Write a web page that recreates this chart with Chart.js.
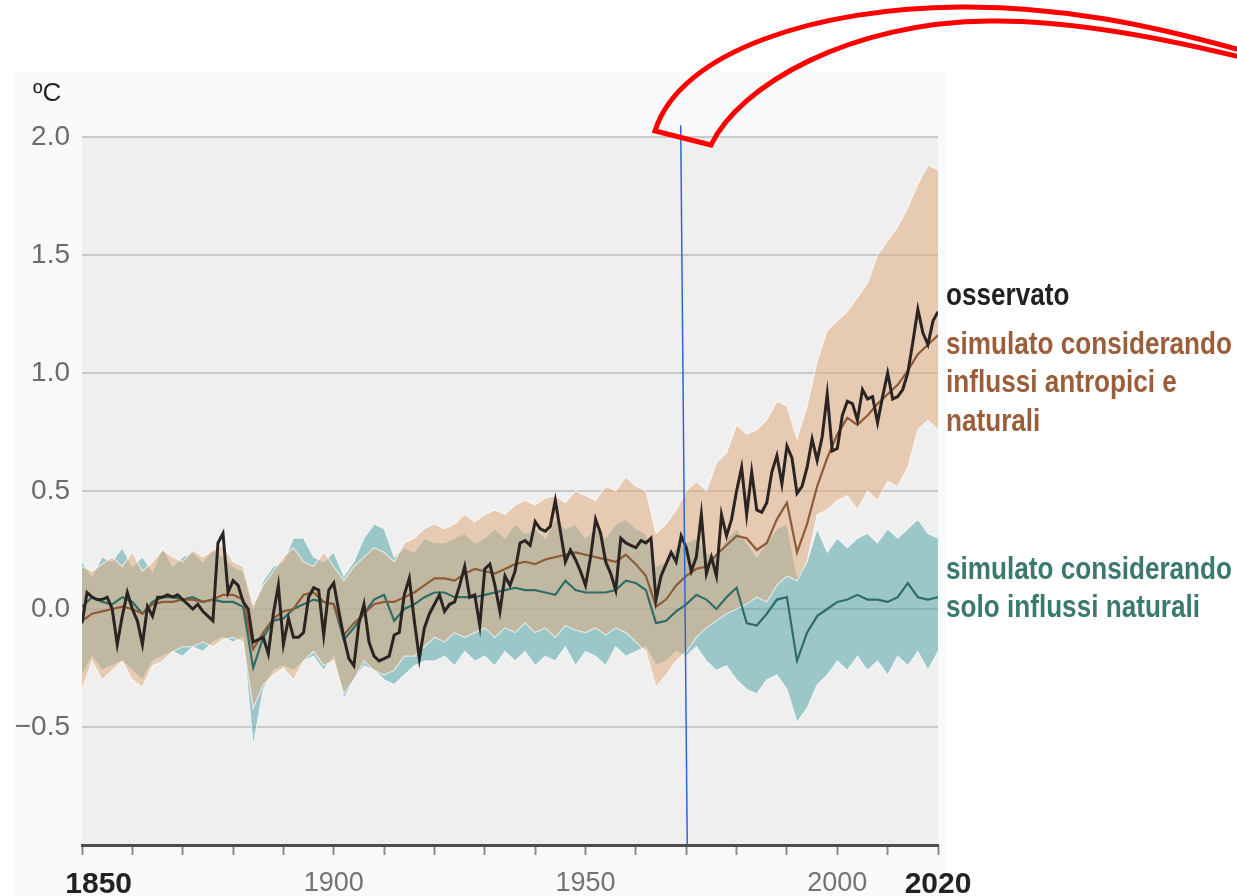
<!DOCTYPE html>
<html>
<head>
<meta charset="utf-8">
<script src="https://cdn.jsdelivr.net/npm/chart.js@4.4.1/dist/chart.umd.min.js"></script>
<style>
  html, body { margin: 0; padding: 0; background: #fff; }
  #wrap { position: relative; width: 1237px; height: 896px; }
</style>
</head>
<body>
<div id="wrap"><canvas id="grafico" width="1237" height="896"></canvas></div>
<script>
// anni (asse x)
function range(a, b, passo) { const r = []; for (let v = a; v <= b; v += passo) r.push(v); return r; }
const obsYears = range(1850, 2020, 1);
const bandYears = range(1850, 2020, 2);
const xTicksLabelled = [1850, 1900, 1950, 2000, 2020];
const xTicksBold = [1850, 2020];

// osservato (annuale, 1850-2020)
const obsValues = [
  -0.06, 0.07, 0.05, 0.04, 0.04, 0.05, 0.00, -0.15, -0.03, 0.07,
  0.00, -0.05, -0.15, 0.01, -0.03, 0.05, 0.05, 0.06, 0.05, 0.06,
  0.04, 0.02, 0.00, 0.02, -0.01, -0.03, -0.05, 0.28, 0.32, 0.07,
  0.12, 0.10, 0.03, 0.00, -0.14, -0.13, -0.12, -0.19, -0.02, 0.10,
  -0.15, -0.04, -0.12, -0.12, -0.10, 0.05, 0.09, 0.08, -0.11, 0.08,
  0.11, -0.01, -0.12, -0.21, -0.24, -0.06, 0.02, -0.14, -0.20, -0.22,
  -0.21, -0.20, -0.11, -0.10, 0.06, 0.13, -0.05, -0.21, -0.08, -0.02,
  0.02, 0.06, -0.01, 0.02, 0.03, 0.10, 0.18, 0.05, 0.06, -0.07,
  0.17, 0.19, 0.10, -0.01, 0.14, 0.10, 0.16, 0.28, 0.29, 0.27,
  0.37, 0.34, 0.33, 0.35, 0.46, 0.33, 0.20, 0.25, 0.21, 0.16,
  0.10, 0.22, 0.38, 0.32, 0.20, 0.15, 0.08, 0.30, 0.28, 0.27,
  0.26, 0.29, 0.28, 0.30, 0.04, 0.14, 0.19, 0.24, 0.20, 0.31,
  0.26, 0.16, 0.22, 0.40, 0.15, 0.22, 0.14, 0.40, 0.31, 0.38,
  0.50, 0.60, 0.40, 0.58, 0.42, 0.41, 0.45, 0.58, 0.65, 0.53,
  0.69, 0.64, 0.49, 0.52, 0.60, 0.72, 0.63, 0.73, 0.91, 0.67,
  0.68, 0.82, 0.88, 0.87, 0.80, 0.93, 0.89, 0.90, 0.79, 0.90,
  1.00, 0.89, 0.90, 0.93, 1.00, 1.13, 1.27, 1.17, 1.12, 1.22,
  1.26
];

// simulato, influssi antropici e naturali (ogni 2 anni)
const humanMean = [
  -0.05, -0.02, -0.01, 0.00, 0.01, 0.00, -0.02, 0.02, 0.03, 0.03,
  0.04, 0.04, 0.03, 0.04, 0.06, 0.06, 0.04, -0.17, -0.10, -0.04,
  -0.01, 0.00, 0.06, 0.07, 0.03, 0.02, -0.11, -0.06, -0.02, 0.02,
  0.03, 0.03, 0.05, 0.07, 0.10, 0.13, 0.13, 0.12, 0.15, 0.17,
  0.16, 0.15, 0.17, 0.19, 0.20, 0.19, 0.21, 0.22, 0.23, 0.24,
  0.23, 0.22, 0.21, 0.20, 0.23, 0.19, 0.14, 0.01, 0.04, 0.10,
  0.14, 0.17, 0.18, 0.23, 0.27, 0.31, 0.30, 0.25, 0.28, 0.38,
  0.45, 0.24, 0.36, 0.52, 0.64, 0.74, 0.81, 0.78, 0.82, 0.87,
  0.91, 0.95, 1.01, 1.08, 1.12, 1.16
];
const humanHi = [
  0.18, 0.16, 0.19, 0.22, 0.18, 0.24, 0.16, 0.20, 0.25, 0.22,
  0.20, 0.25, 0.22, 0.25, 0.27, 0.20, 0.18, 0.02, 0.10, 0.16,
  0.22, 0.26, 0.20, 0.18, 0.24, 0.18, 0.12, 0.18, 0.22, 0.26,
  0.24, 0.20, 0.28, 0.30, 0.34, 0.36, 0.34, 0.36, 0.40, 0.37,
  0.40, 0.42, 0.40, 0.44, 0.46, 0.44, 0.47, 0.48, 0.45, 0.50,
  0.48, 0.46, 0.52, 0.50, 0.56, 0.52, 0.50, 0.32, 0.36, 0.42,
  0.50, 0.54, 0.50, 0.62, 0.66, 0.78, 0.74, 0.76, 0.80, 0.88,
  0.86, 0.72, 0.86, 1.05, 1.18, 1.22, 1.26, 1.32, 1.38, 1.50,
  1.56, 1.62, 1.70, 1.80, 1.88, 1.86
];
const humanLo = [
  -0.34, -0.22, -0.30, -0.26, -0.22, -0.30, -0.33, -0.24, -0.22, -0.18,
  -0.16, -0.16, -0.14, -0.16, -0.13, -0.12, -0.14, -0.42, -0.32, -0.28,
  -0.25, -0.30, -0.22, -0.18, -0.24, -0.22, -0.36, -0.30, -0.22, -0.26,
  -0.28, -0.26, -0.20, -0.20, -0.16, -0.12, -0.14, -0.10, -0.12, -0.10,
  -0.08, -0.12, -0.08, -0.10, -0.06, -0.10, -0.08, -0.12, -0.07, -0.09,
  -0.10, -0.08, -0.11, -0.08, -0.10, -0.14, -0.18, -0.33, -0.28, -0.22,
  -0.18, -0.12, -0.08, -0.05, -0.02, 0.00, 0.02, 0.05, 0.03, 0.10,
  0.14, 0.12, 0.20, 0.40, 0.42, 0.46, 0.48, 0.42, 0.50, 0.46,
  0.54, 0.52, 0.60, 0.76, 0.80, 0.76
];

// simulato, solo influssi naturali (ogni 2 anni)
const naturalMean = [
  0.01, 0.05, 0.03, 0.02, 0.05, 0.03, -0.02, 0.03, 0.05, 0.05,
  0.04, 0.05, 0.03, 0.04, 0.03, 0.03, 0.01, -0.25, -0.12, -0.05,
  -0.04, 0.00, 0.02, 0.04, 0.03, 0.02, -0.13, -0.08, -0.02, 0.04,
  0.06, -0.05, 0.00, 0.02, 0.05, 0.07, 0.07, 0.05, 0.05, 0.05,
  0.06, 0.07, 0.08, 0.09, 0.08, 0.08, 0.07, 0.06, 0.12, 0.08,
  0.07, 0.07, 0.07, 0.08, 0.12, 0.11, 0.08, -0.06, -0.05, -0.01,
  0.02, 0.06, 0.04, 0.00, 0.05, 0.09, -0.06, -0.07, -0.02, 0.04,
  0.05, -0.22, -0.10, -0.03, 0.00, 0.03, 0.04, 0.06, 0.04, 0.04,
  0.03, 0.05, 0.11, 0.05, 0.04, 0.05
];
const naturalHi = [
  0.20, 0.14, 0.22, 0.20, 0.26, 0.18, 0.22, 0.16, 0.26, 0.18,
  0.22, 0.24, 0.20, 0.25, 0.22, 0.18, 0.16, 0.00, 0.12, 0.18,
  0.20, 0.30, 0.30, 0.22, 0.20, 0.24, 0.14, 0.20, 0.30, 0.36,
  0.34, 0.22, 0.26, 0.24, 0.30, 0.28, 0.28, 0.30, 0.32, 0.28,
  0.30, 0.34, 0.30, 0.36, 0.32, 0.34, 0.30, 0.38, 0.34, 0.36,
  0.30, 0.34, 0.30, 0.36, 0.38, 0.34, 0.32, 0.18, 0.20, 0.26,
  0.28, 0.30, 0.24, 0.22, 0.30, 0.34, 0.28, 0.22, 0.28, 0.34,
  0.36, 0.14, 0.20, 0.34, 0.24, 0.30, 0.26, 0.30, 0.32, 0.28,
  0.34, 0.30, 0.34, 0.38, 0.32, 0.30
];
const naturalLo = [
  -0.28, -0.20, -0.26, -0.24, -0.22, -0.26, -0.30, -0.22, -0.20, -0.18,
  -0.20, -0.16, -0.18, -0.14, -0.12, -0.14, -0.12, -0.58, -0.34, -0.26,
  -0.24, -0.26, -0.22, -0.20, -0.26, -0.20, -0.38, -0.30, -0.24, -0.26,
  -0.30, -0.32, -0.28, -0.24, -0.22, -0.22, -0.20, -0.24, -0.18, -0.22,
  -0.20, -0.24, -0.18, -0.22, -0.18, -0.24, -0.20, -0.22, -0.16, -0.24,
  -0.18, -0.20, -0.24, -0.16, -0.20, -0.18, -0.16, -0.24, -0.22, -0.18,
  -0.20, -0.16, -0.22, -0.26, -0.24, -0.30, -0.34, -0.36, -0.30, -0.28,
  -0.34, -0.48, -0.42, -0.32, -0.28, -0.22, -0.26, -0.20, -0.26, -0.22,
  -0.28, -0.20, -0.24, -0.18, -0.26, -0.18
];

// testi
const unitLabel = 'ºC';
const labelObserved = ['osservato'];
const labelHuman = ['simulato considerando', 'influssi antropici e', 'naturali'];
const labelNatural = ['simulato considerando', 'solo influssi naturali'];
// linea blu di riferimento (anno in alto, anno in basso)
const markerYears = [1968.9, 1970.2];

const FONT = '"Liberation Sans", Arial, sans-serif';
const LEGENDA_LARGH = 286; // larghezza di "simulato considerando" nel riferimento

function pts(xs, ys) { return xs.map((x, i) => ({ x, y: ys[i] })); }

const sfondo = {
  id: 'sfondo',
  beforeDraw(chart) {
    const { ctx, chartArea: a } = chart;
    ctx.save();
    ctx.fillStyle = '#ffffff';
    ctx.fillRect(0, 0, chart.width, chart.height);
    ctx.fillStyle = '#f9fafb';
    ctx.fillRect(14, 72, a.right + 8 - 14, chart.height - 72);
    ctx.fillStyle = '#efefef';
    ctx.fillRect(a.left, a.top, a.right - a.left, a.bottom - a.top);
    ctx.restore();
  }
};

const testi = {
  id: 'testi',
  afterDraw(chart) {
    const { ctx, chartArea: a, scales } = chart;
    const x = scales.x, y = scales.y;
    ctx.save();
    ctx.textBaseline = 'middle';
    ctx.textAlign = 'left';
    ctx.fillStyle = '#222';
    ctx.font = '26px ' + FONT;
    ctx.fillText(unitLabel, 33, 94);

    // legenda a destra, compressa in orizzontale come un carattere stretto
    ctx.font = 'bold 31px ' + FONT;
    const k = LEGENDA_LARGH / ctx.measureText(labelHuman[0]).width;
    const lx = a.right + 8;
    const blocchi = [
      { righe: labelObserved, y0: 296, col: '#231f20' },
      { righe: labelHuman, y0: 345, col: '#9b5e3a' },
      { righe: labelNatural, y0: 570, col: '#3b786e' }
    ];
    blocchi.forEach(b => {
      ctx.fillStyle = b.col;
      b.righe.forEach((t, i) => {
        ctx.save();
        ctx.translate(lx, b.y0 + i * 38.5);
        ctx.scale(k, 1);
        ctx.fillText(t, 0, 0);
        ctx.restore();
      });
    });

    // linea blu
    ctx.strokeStyle = '#2f66d6';
    ctx.lineWidth = 1.5;
    ctx.beginPath();
    ctx.moveTo(x.getPixelForValue(markerYears[0]), y.getPixelForValue(2.05));
    ctx.lineTo(x.getPixelForValue(markerYears[1]), a.bottom);
    ctx.stroke();

    // freccia rossa
    ctx.strokeStyle = '#ff0000';
    ctx.lineWidth = 5;
    ctx.lineJoin = 'miter';
    ctx.beginPath();
    ctx.moveTo(655, 131);
    ctx.bezierCurveTo(680, 50, 820, 8, 960, 7);
    ctx.bezierCurveTo(1060, 6, 1150, 25, 1240, 50);
    ctx.lineTo(1240, 57);
    ctx.bezierCurveTo(1150, 35, 1060, 20, 990, 21);
    ctx.bezierCurveTo(850, 22, 740, 85, 711, 145);
    ctx.closePath();
    ctx.stroke();
    ctx.restore();
  }
};

const bordoBanda = 'rgba(255,255,255,0.65)';

new Chart(document.getElementById('grafico'), {
  type: 'line',
  data: {
    datasets: [
      { label: 'osservato', data: pts(obsYears, obsValues), borderColor: '#2a2523', borderWidth: 3, order: 0 },
      { label: 'antropici e naturali', data: pts(bandYears, humanMean), borderColor: '#8f5a38', borderWidth: 2.2, order: 1 },
      { label: 'solo naturali', data: pts(bandYears, naturalMean), borderColor: '#2f6e67', borderWidth: 2.2, order: 2 },
      { label: 'nat min', data: pts(bandYears, naturalLo), borderColor: bordoBanda, borderWidth: 1.2, order: 6 },
      { label: 'nat max', data: pts(bandYears, naturalHi), borderColor: bordoBanda, borderWidth: 1.2, order: 6,
        fill: '-1', backgroundColor: 'rgba(85,165,170,0.55)' },
      { label: 'ant min', data: pts(bandYears, humanLo), borderColor: bordoBanda, borderWidth: 1.2, order: 5 },
      { label: 'ant max', data: pts(bandYears, humanHi), borderColor: bordoBanda, borderWidth: 1.2, order: 5,
        fill: '-1', backgroundColor: 'rgba(222,172,128,0.55)' }
    ]
  },
  options: {
    responsive: false,
    animation: false,
    devicePixelRatio: 1,
    layout: { padding: { left: 0, top: 137, right: 299, bottom: 0 } },
    elements: { point: { radius: 0 }, line: { tension: 0, fill: false } },
    plugins: { legend: { display: false }, tooltip: { enabled: false } },
    scales: {
      x: {
        type: 'linear', min: 1850, max: 2020,
        afterFit(s) { s.height = 51; },
        border: { display: true, color: '#4d4d4d', width: 3 },
        grid: { drawOnChartArea: false, drawTicks: true, tickLength: 10, tickColor: '#8c8c8c', tickWidth: 2 },
        ticks: {
          stepSize: 10, autoSkip: false, maxRotation: 0, padding: 12,
          callback: v => !xTicksLabelled.includes(v) ? '' : (v === 1850 ? '    ' + v : String(v)),
          color: c => xTicksBold.includes(c.tick && c.tick.value) ? '#222222' : '#737373',
          font: c => xTicksBold.includes(c.tick && c.tick.value)
            ? { size: 30, weight: 'bold', family: FONT } : { size: 27, weight: 'normal', family: FONT }
        }
      },
      y: {
        min: -1, max: 2,
        afterFit(s) { s.width = 82; },
        border: { display: false },
        grid: { color: '#c8c8c8', lineWidth: 2, drawTicks: false },
        ticks: {
          stepSize: 0.5, padding: 12, color: '#6b6b6b', font: { size: 28, family: FONT },
          callback: v => v < -0.75 ? '' : (v < 0 ? '\u2212' : '') + Math.abs(v).toFixed(1)
        }
      }
    }
  },
  plugins: [sfondo, testi]
});
</script>
</body>
</html>
